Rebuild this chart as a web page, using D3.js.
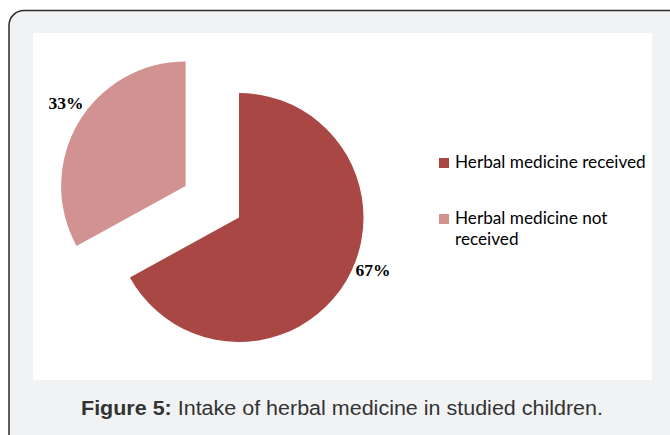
<!DOCTYPE html>
<html><head><meta charset="utf-8">
<script src="https://cdn.jsdelivr.net/npm/d3@7"></script>
<style>html,body{margin:0;padding:0;background:#fff;}svg{display:block;}</style>
</head><body>
<svg id="chart" width="670" height="435"></svg>
<script>
const categories = ["Herbal medicine received", "Herbal medicine not received"];
const values = [67, 33];
const labels = ["67%", "33%"];
const colors = ["#a94744", "#d29291"];
const explode = [0, 62];

const svg = d3.select("#chart");
// frame
svg.append("rect").attr("x", 9).attr("y", 10.5).attr("width", 680).attr("height", 440)
  .attr("rx", 15).attr("fill", "#f1f2f4").attr("stroke", "#2b2b2b").attr("stroke-width", 1.5);
svg.append("rect").attr("x", 33).attr("y", 33).attr("width", 619).attr("height", 347).attr("fill", "#fff");

const cx = 239, cy = 217.5, r = 124.5;
const pie = d3.pie().sort(null).value(d => d);
const arcs = pie(values);
const arc = d3.arc().innerRadius(0).outerRadius(r);
const g = svg.append("g").attr("transform", `translate(${cx},${cy})`);
g.selectAll("path").data(arcs).join("path")
  .attr("d", arc)
  .attr("fill", (d, i) => colors[i])
  .attr("transform", (d, i) => {
    const a = (d.startAngle + d.endAngle) / 2;
    return `translate(${Math.sin(a) * explode[i]},${-Math.cos(a) * explode[i]})`;
  });

const labelPos = [[373, 276], [66, 109]];
svg.selectAll("text.lbl").data(labels).join("text").attr("class", "lbl")
  .attr("x", (d, i) => labelPos[i][0]).attr("y", (d, i) => labelPos[i][1])
  .attr("text-anchor", "middle")
  .attr("font-family", "'Liberation Serif', serif").attr("font-weight", "bold")
  .attr("font-size", 17.5).attr("fill", "#000").text(d => d);

// legend
const lg = svg.append("g");
const legLines = [["Herbal medicine received"], ["Herbal medicine not", "received"]];
const legY = [163, 219];
legLines.forEach((lines, i) => {
  lg.append("rect").attr("x", 439).attr("y", legY[i] - 5).attr("width", 10).attr("height", 10).attr("fill", colors[i]);
  const t = lg.append("text").attr("x", 455).attr("y", legY[i] + 5)
    .attr("font-family", "Lato, 'Open Sans', sans-serif").attr("font-size", 17.2).attr("fill", "#000");
  lines.forEach((l, j) => t.append("tspan").attr("x", 455).attr("dy", j === 0 ? 0 : 21).text(l));
});

// caption
const cap = svg.append("text").attr("x", 342).attr("y", 415).attr("text-anchor", "middle")
  .attr("font-family", "'Liberation Sans', Arial, sans-serif").attr("font-size", 20).attr("fill", "#333")
  .attr("textLength", 522).attr("lengthAdjust", "spacingAndGlyphs");
cap.append("tspan").attr("font-weight", "bold").text("Figure 5:");
cap.append("tspan").text(" Intake of herbal medicine in studied children.");
</script>
</body></html>
